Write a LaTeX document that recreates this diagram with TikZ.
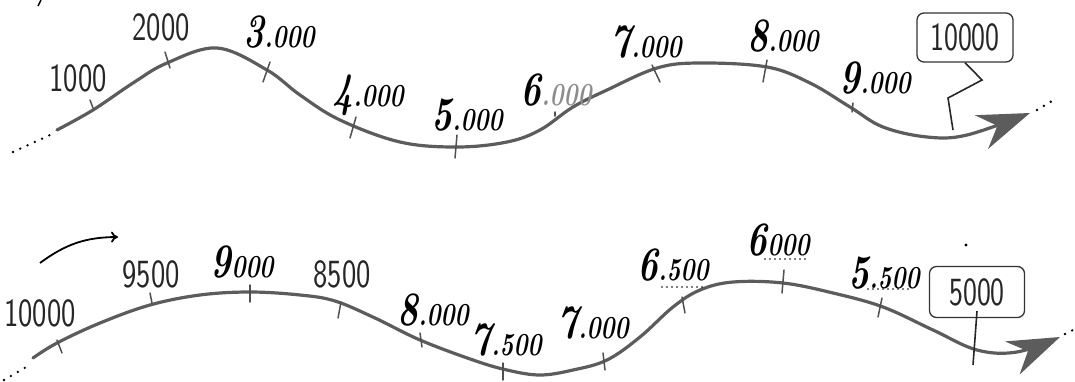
\documentclass[tikz,border=0pt]{standalone}
\usetikzlibrary{arrows.meta}
\definecolor{curvegray}{RGB}{92,92,92}
\definecolor{tickgray}{RGB}{80,80,80}
\definecolor{lightink}{RGB}{140,140,140}
\newcommand{\thinf}{\sffamily\fontsize{40}{40}\selectfont}
\newcommand{\nar}[1]{\scalebox{0.76}[1]{#1}}
\newcommand{\hwbig}{\fontsize{48}{48}\selectfont}
\newcommand{\hwsmall}{\fontsize{32}{32}\selectfont}
\newcommand{\hw}[2]{\scalebox{0.74}[1]{\bfseries\itshape{\hwbig #1}{\hwsmall #2}}}
\begin{document}
\begin{tikzpicture}[x=1pt,y=-1pt,
  curve/.style={draw=curvegray, line width=3.2pt, line cap=round},
  tickmark/.style={draw=tickgray, line width=1.5pt, line cap=round},
  thinlbl/.style={font=\thinf, text=black!85, inner sep=0pt},
  hand/.style={inner sep=0pt, text=black},
  valbox/.style={draw=black!80, line width=1.3pt, rounded corners=7pt, font=\thinf, text=black!85, inner sep=0pt},
  leaddots/.style={draw=black, line width=2.6pt, line cap=round, dash pattern=on 0pt off 8pt},
  udots/.style={draw=black, line width=1.6pt, line cap=round, dash pattern=on 0pt off 5pt},
  bigtip/.style={-{Stealth[length=52pt,width=36pt,inset=17pt]}}
]
\useasboundingbox (0,0) rectangle (1075,381);

% ---------- top line ----------
\draw[leaddots] (13,152) -- (50,135);
\draw[curve, bigtip] plot[smooth, tension=0.6] coordinates {
 (57,130) (93,110) (133,83) (167,63) (217,48) (267,70) (300,95) (340,120)
 (400,142) (457,147) (507,142) (540,130) (573,107) (607,90) (657,68)
 (700,63) (767,67) (810,83) (850,107) (883,127) (927,137) (967,135) (1030,113)};
\draw[leaddots] (1037,110) -- (1052,101);

% ticks top
\draw[tickmark] (90,100) -- (93,108);
\draw[tickmark] (165,52) -- (170,68);
\draw[tickmark] (270,62) -- (263,82);
\draw[tickmark] (356,117) -- (350,138);
\draw[tickmark] (457,135) -- (455,158);
\draw[tickmark] (555,112) -- (555,116);
\draw[tickmark] (652,65) -- (660,82);
\draw[tickmark] (767,60) -- (763,82);
\draw[tickmark] (853,103) -- (852,112);

% labels top
\node[thinlbl] (t1000) at (78,78) {\nar{1000}};
\node[thinlbl] (t2000) at (161,27) {\nar{2000}};
\node[hand] (h3) at (279,32) {\hw{3}{.000}};
\node[hand] (h4) at (368,95) {\hw{4}{.000}};
\node[hand] (h5) at (467,115) {\hw{5}{.000}};
\node[hand] (h6) at (556,90) {\scalebox{0.74}[1]{\bfseries\itshape{\hwbig 6}{\hwsmall\color{lightink}.000}}};
\node[hand] (h7) at (646,42) {\hw{7}{.000}};
\node[hand] (h8) at (783,36) {\hw{8}{.000}};
\node[hand] (h9) at (875,78) {\hw{9}{.000}};

\node[valbox, minimum width=96pt, minimum height=49pt] (b10) at (965,37.5) {\scalebox{0.74}[1]{10000}};
\coordinate (z1) at (982,80);
\coordinate (z2) at (948,98);
\coordinate (z3) at (953,130);
\draw[black!85, line width=1.6pt] (b10.south) -- (z1) -- (z2) -- (z3);

% ---------- bottom line ----------
\draw[black, line width=1.8pt, -{To[length=7pt,width=11pt]}] (40,263) to[bend left=18] (118,237);
\draw[black, line width=1.4pt] (41,0) -- (38,6);

\draw[leaddots] (4,380) -- (28,366);
\draw[curve, bigtip] plot[smooth, tension=0.6] coordinates {
 (33,358) (57,343) (100,323) (150,305) (200,295) (250,292) (300,295)
 (335,301) (375,318) (420,340) (473,360) (507,370) (540,375) (573,370)
 (607,360) (640,337) (673,307) (700,290) (733,282) (783,283) (833,293)
 (883,307) (933,330) (977,350) (1017,352) (1060,337)};
\draw[leaddots] (1065,334) -- (1075,329);

% ticks bottom
\draw[tickmark] (57,340) -- (62,353);
\draw[tickmark] (150,293) -- (152,303);
\draw[tickmark] (250,285) -- (250,302);
\draw[tickmark] (341,302) -- (338,318);
\draw[tickmark] (420,333) -- (422,347);
\draw[tickmark] (503,363) -- (503,380);
\draw[tickmark] (603,353) -- (605,370);
\draw[tickmark] (682,297) -- (685,313);
\draw[tickmark] (784,270) -- (782,293);
\draw[tickmark] (882,298) -- (878,317);

% labels bottom
\node[thinlbl] (u10000) at (40,313) {\nar{10000}};
\node[thinlbl] (u9500) at (151,274) {\nar{9500}};
\node[thinlbl] (u8500) at (342,274) {\nar{8500}};
\node[hand] (v9) at (242,262) {\hw{9}{000}};
\node[hand] (v8) at (433,310) {\hw{8}{.000}};
\node[hand] (v75) at (506,340) {\hw{7}{.500}};
\node[hand] (v7) at (593,323) {\hw{7}{.000}};
\node[hand] (v65) at (673,265) {\hw{6}{.500}};
\node[hand] (v6) at (778,240) {\hw{6}{000}};
\node[hand] (v55) at (884,273) {\hw{5}{.500}};
\draw[udots] (765,259) -- (805,259);
\draw[udots] (868,289) -- (908,289);
\draw[udots] (662,287) -- (702,287);

\node[valbox, minimum width=95pt, minimum height=51pt] (b5) at (977,292) {\scalebox{0.74}[1]{5000}};
\fill[black] (966,245) circle (1.6pt);
\coordinate (k1) at (973,365);
\draw[black!85, line width=1.6pt] ([yshift=7pt]b5.south) -- (k1);
\end{tikzpicture}
\end{document}
